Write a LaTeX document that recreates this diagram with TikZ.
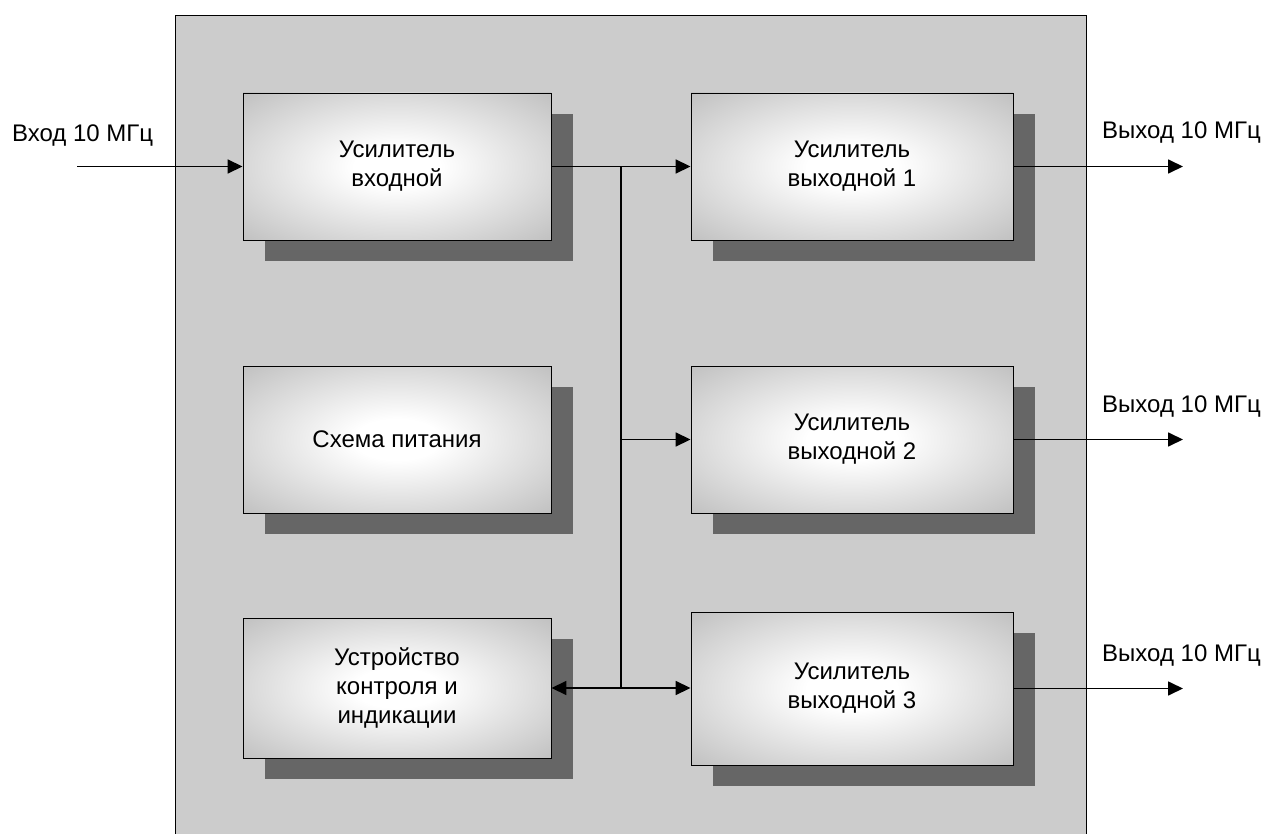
\documentclass[tikz,border=0pt]{standalone}
\usepackage{fontspec}
\setmainfont{Liberation Sans}
\usepackage{tikz}
\usepackage{xcolor}
\usetikzlibrary{arrows.meta, positioning, shadows, calc}
\definecolor{PanelGray}{HTML}{CCCCCC}
\definecolor{BlockEdge}{HTML}{B0B0B0}
\definecolor{ShadowGray}{HTML}{666666}

% glow in the middle of each block
\pgfdeclareradialshading{blockglow}{\pgfpoint{0bp}{0bp}}{color(0bp)=(white); color(7bp)=(white); color(43bp)=(BlockEdge); color(80bp)=(BlockEdge)}

\tikzset{
    block/.style={draw=black, line width=0.9pt, shading=blockglow, align=center,
        inner sep=0pt, font=\fontsize{24}{29}\selectfont,
        drop shadow={shadow xshift=22pt, shadow yshift=-21pt, opacity=1, fill=ShadowGray, draw=none}},
    sig/.style={line width=1.7pt, -{Triangle[length=15pt, width=14pt]}},
    wire/.style={line width=1.7pt},
    portlabel/.style={font=\fontsize{24}{29}\selectfont, inner sep=0pt, anchor=base west}
}

\begin{document}
\begin{tikzpicture}[x=1pt, y=-1pt]
    \useasboundingbox (0,0) rectangle (1269,834);

    % Panel of the device
    \draw[line width=0.9pt, fill=PanelGray] (175,15) rectangle (1086,840);

    % Left column
    \node[block, minimum width=308pt, minimum height=147pt] (inamp) at (397,166.5) {Усилитель\\входной};
    \node[block, minimum width=308pt, minimum height=147pt] (power) at (397,439.5) {Схема питания};
    \node[block, minimum width=308pt, minimum height=140pt] (ctrl) at (397,688) {Устройство\\контроля и\\индикации};

    % Right column
    \node[block, minimum width=322pt, minimum height=147pt] (out1) at (852,166.5) {Усилитель\\выходной 1};
    \node[block, minimum width=322pt, minimum height=147pt] (out2) at (852,439.5) {Усилитель\\выходной 2};
    \node[block, minimum width=322pt, minimum height=153pt] (out3) at (852,688.5) {Усилитель\\выходной 3};

    % Input
    \coordinate (src) at (77,166.5);
    \draw[sig] (src) -- (inamp.west);
    \node[portlabel] (inlbl) at (12,142) {Вход 10 МГц};

    % Distribution bus
    \coordinate (jtop) at (621,166.5);
    \coordinate (jmid) at (621,439.5);
    \coordinate (jbot) at (621,688);
    \draw[sig] (inamp.east) -- (out1.west);
    \draw[wire] (jtop) -- (jbot);
    \draw[sig] (jmid) -- (out2.west);
    \draw[sig] (jbot) -- (out3.west |- jbot);
    \draw[sig] (jbot) -- (ctrl.east);

    % Outputs
    \foreach \k/\ly in {1/139, 2/412, 3/661} {
        \coordinate (dst\k) at (1183,0 |- out\k.east);
        \draw[sig] (out\k.east) -- (dst\k);
        \node[portlabel] (outlbl\k) at (1102,\ly) {Выход 10 МГц};
    }
\end{tikzpicture}
\end{document}
